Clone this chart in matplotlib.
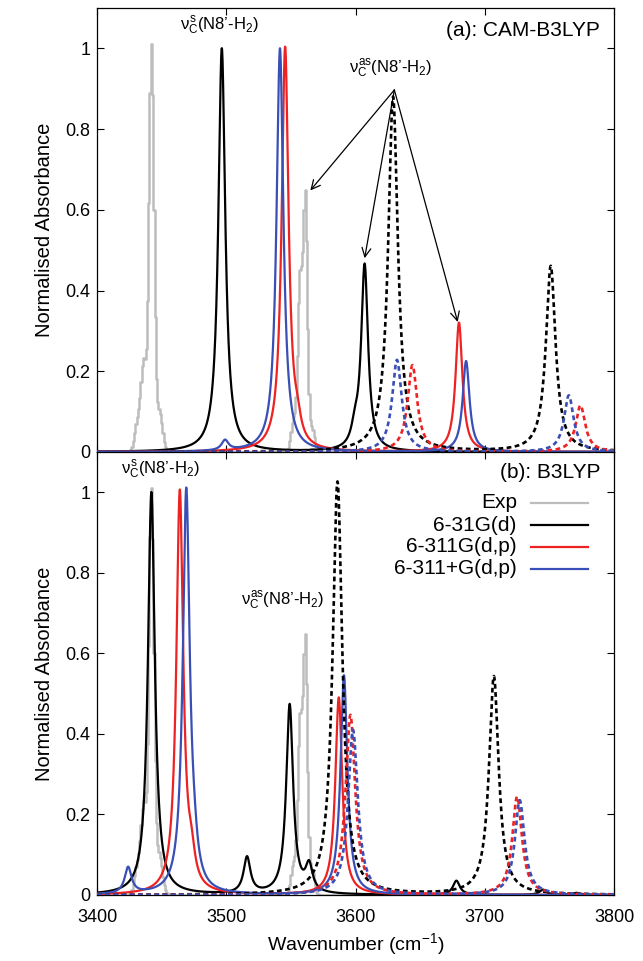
import numpy as np
import matplotlib
matplotlib.use("Agg")
import matplotlib.pyplot as plt
from matplotlib.lines import Line2D

plt.rcParams['font.family'] = ['Liberation Sans', 'DejaVu Sans']
plt.rcParams['mathtext.fontset'] = 'custom'
plt.rcParams['mathtext.rm'] = 'Liberation Sans'
plt.rcParams['mathtext.it'] = 'Liberation Sans'

# ---------------- data (peak lists) ----------------
# Experimental spectrum: band centres / heights / widths (gaussian sigma)
exp_pos = [3431, 3436, 3442, 3448, 3552, 3557, 3561, 3566]
exp_hgt = [0.07, 0.22, 1.00, 0.10, 0.08, 0.42, 0.62, 0.06]
exp_sig = [2.2, 2.2, 1.9, 2.4, 2.0, 1.7, 1.6, 2.0]

# (a) CAM-B3LYP, solid lines (conformer 1)
a_631_pos = [3496.5, 3599.5, 3607]
a_631_hgt = [1.00, 0.04, 0.46]
a_6311_pos = [3545.5, 3555, 3680]
a_6311_hgt = [1.00, 0.04, 0.32]
a_6311p_pos = [3499, 3541.5, 3685.5]
a_6311p_hgt = [0.025, 1.00, 0.225]
# (a) CAM-B3LYP, dashed lines (conformer 2)
a_631_d_pos = [3629, 3751]
a_631_d_hgt = [0.88, 0.46]
a_6311_d_pos = [3644, 3774]
a_6311_d_hgt = [0.215, 0.115]
a_6311p_d_pos = [3632, 3765]
a_6311p_d_hgt = [0.228, 0.14]

# (b) B3LYP, solid lines
b_631_pos = [3442, 3516, 3549, 3564, 3678, 3745, 3771]
b_631_hgt = [1.00, 0.09, 0.47, 0.065, 0.035, 0.013, 0.005]
b_6311_pos = [3464, 3473, 3587]
b_6311_hgt = [1.00, 0.06, 0.49]
b_6311p_pos = [3424, 3469, 3475, 3591]
b_6311p_hgt = [0.065, 1.00, 0.05, 0.545]
# (b) B3LYP, dashed lines
b_631_d_pos = [3586, 3707]
b_631_d_hgt = [1.026, 0.542]
b_6311_d_pos = [3596, 3725]
b_6311_d_hgt = [0.447, 0.244]
b_6311p_d_pos = [3598, 3727]
b_6311p_d_hgt = [0.41, 0.235]

gamma_solid = 3.2
gamma_dash = 4.5

x_ticks = [3400, 3500, 3600, 3700, 3800]
y_ticks = [0, 0.2, 0.4, 0.6, 0.8, 1]
y_ticklabels = ['0', '0.2', '0.4', '0.6', '0.8', '1']

# ---------------- helpers ----------------
x = np.linspace(3400, 3800, 4001)
x_exp = np.arange(3400, 3801, 1.0)


def lorentz(pos, hgt, g):
    y = np.zeros_like(x)
    for p, h in zip(pos, hgt):
        y += h / (1 + ((x - p) / g) ** 2)
    return y


def gauss(pos, hgt, sig):
    y = np.zeros_like(x_exp)
    for p, h, s in zip(pos, hgt, sig):
        y += h * np.exp(-0.5 * ((x_exp - p) / s) ** 2)
    return y


C_EXP = '#bdbdbd'
C_BLK = '#000000'
C_RED = '#ee2222'
C_BLU = '#3a4fb5'
LW = 1.6
DASH = (0, (1.8, 1.3))

fig = plt.figure(figsize=(6.43, 9.61), dpi=100)
ax1 = fig.add_axes([0.151, 0.5297, 0.804, 0.462])
ax2 = fig.add_axes([0.151, 0.0687, 0.804, 0.461])

panels = [
    (ax1, (a_631_pos, a_631_hgt), (a_6311_pos, a_6311_hgt), (a_6311p_pos, a_6311p_hgt),
     (a_631_d_pos, a_631_d_hgt), (a_6311_d_pos, a_6311_d_hgt), (a_6311p_d_pos, a_6311p_d_hgt)),
    (ax2, (b_631_pos, b_631_hgt), (b_6311_pos, b_6311_hgt), (b_6311p_pos, b_6311p_hgt),
     (b_631_d_pos, b_631_d_hgt), (b_6311_d_pos, b_6311_d_hgt), (b_6311p_d_pos, b_6311p_d_hgt)),
]

exp_y = gauss(exp_pos, exp_hgt, exp_sig)

for ax, s1, s2, s3, d1, d2, d3 in panels:
    ax.plot(x_exp, exp_y, color=C_EXP, lw=LW + 0.2, drawstyle='steps-mid', zorder=1)
    ax.plot(x, lorentz(*s1, gamma_solid), color=C_BLK, lw=LW, zorder=2)
    ax.plot(x, lorentz(*s2, gamma_solid), color=C_RED, lw=LW, zorder=3)
    ax.plot(x, lorentz(*s3, gamma_solid), color=C_BLU, lw=LW, zorder=4)
    ax.plot(x, lorentz(*d1, gamma_dash), color=C_BLK, lw=LW + 0.3, ls=DASH, zorder=5)
    ax.plot(x, lorentz(*d2, gamma_dash), color=C_RED, lw=LW + 0.3, ls=DASH, zorder=6)
    ax.plot(x, lorentz(*d3, gamma_dash), color=C_BLU, lw=LW + 0.3, ls=DASH, zorder=7)

    ax.set_xlim(3400, 3800)
    ax.set_ylim(0, 1.1)
    ax.set_xticks(x_ticks)
    ax.set_yticks(y_ticks)
    ax.set_yticklabels(y_ticklabels)
    ax.tick_params(direction='in', top=True, right=True, length=5, width=0.8,
                   labelsize=13)
    ax.tick_params(axis='y', pad=5)
    ax.tick_params(axis='x', pad=10)
    ax.set_ylabel('Normalised Absorbance', fontsize=14.5, labelpad=8)
    for sp in ax.spines.values():
        sp.set_linewidth(0.9)

ax1.tick_params(labelbottom=False)
ax2.set_xlabel('Wavenumber (cm$^{-1}$)', fontsize=14, labelpad=4)

# panel titles
ax1.text(0.973, 0.95, '(a): CAM-B3LYP', transform=ax1.transAxes, ha='right',
         va='center', fontsize=15)
ax2.text(0.973, 0.953, '(b): B3LYP', transform=ax2.transAxes, ha='right',
         va='center', fontsize=15)

lab_s = r'$\nu_\mathregular{C}^\mathregular{s}$(N8’-H$_\mathregular{2}$)'
lab_as = r'$\nu_\mathregular{C}^\mathregular{as}$(N8’-H$_\mathregular{2}$)'

ax1.text(3495, 1.055, lab_s, ha='center', va='center', fontsize=12)
ax1.text(3627, 0.95, lab_as, ha='center', va='center', fontsize=12)
src = (3630, 0.897)
for tgt in [(3565, 0.648), (3607, 0.48), (3679, 0.322)]:
    ax1.annotate('', xy=tgt, xytext=src,
                 arrowprops=dict(arrowstyle='->', lw=0.9, color='black',
                                 shrinkA=0, shrinkB=0, mutation_scale=16))

ax2.text(3449, 1.055, lab_s, ha='center', va='center', fontsize=12)
ax2.text(3544, 0.73, lab_as, ha='center', va='center', fontsize=12)

# legend (gnuplot style: right-aligned text, sample on the right)
leg_labels = ['Exp', '6-31G(d)', '6-311G(d,p)', '6-311+G(d,p)']
leg_colors = [C_EXP, C_BLK, C_RED, C_BLU]
leg_y = [0.885, 0.835, 0.786, 0.736]
for lab, col, yy in zip(leg_labels, leg_colors, leg_y):
    ax2.text(0.812, yy, lab, transform=ax2.transAxes, ha='right', va='center',
             fontsize=15)
    ax2.add_line(Line2D([0.839, 0.950], [yy, yy], transform=ax2.transAxes,
                        color=col, lw=LW))

fig.savefig('out.png', dpi=100)
